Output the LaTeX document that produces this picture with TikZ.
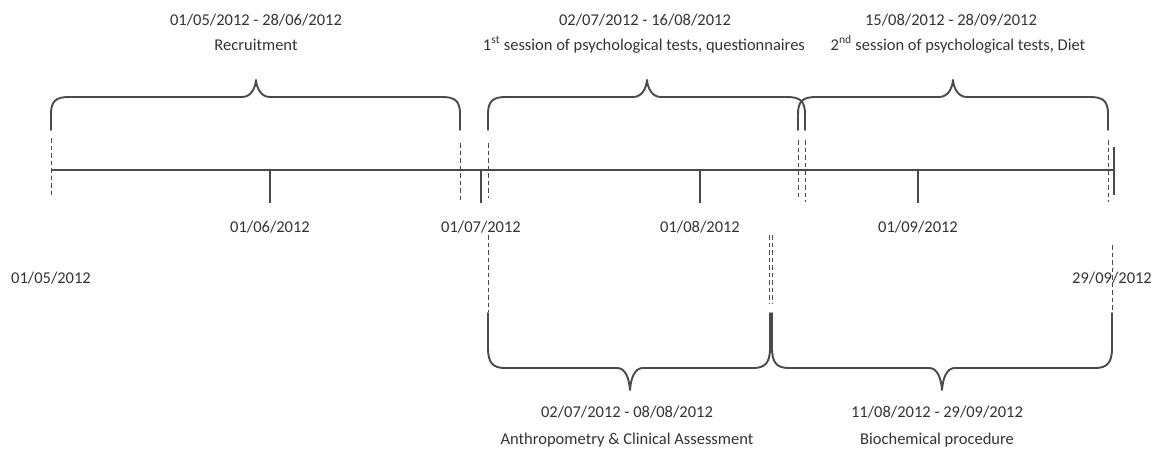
\documentclass[tikz,border=0pt]{standalone}
\usepackage{fontspec}
\setmainfont{Carlito}
\definecolor{ink}{HTML}{4A4A4A}
\definecolor{txt}{HTML}{333333}

% curly brace opening downwards: left x, tip x, right x
\newcommand{\bracetop}[3]{%
  \draw[bracket] (#1,130) -- (#1,114)
    .. controls (#1,101) and (#1+5,97) .. (#1+18,97) -- (#2-14,97)
    .. controls (#2-6,97) and (#2-1,90) .. (#2,80)
    .. controls (#2+1,90) and (#2+6,97) .. (#2+14,97) -- (#3-18,97)
    .. controls (#3-5,97) and (#3,101) .. (#3,114) -- (#3,130);}
% curly brace opening upwards: left x, tip x, right x
\newcommand{\bracebottom}[3]{%
  \draw[bracket] (#1,313) -- (#1,348)
    .. controls (#1,363) and (#1+5,368) .. (#1+17,368) -- (#2-13,368)
    .. controls (#2-5,368) and (#2-1,377) .. (#2,390)
    .. controls (#2+1,377) and (#2+5,368) .. (#2+13,368) -- (#3-17,368)
    .. controls (#3-5,368) and (#3,363) .. (#3,348) -- (#3,313);}

\begin{document}
\begin{tikzpicture}[x=1pt,y=-1pt,
  lbl/.style={font=\fontsize{16.5}{25}\selectfont, text=txt, inner sep=0pt, anchor=base},
  axisline/.style={draw=ink, line width=1.1pt},
  tickline/.style={draw=ink, line width=1.1pt},
  guide/.style={draw=ink, line width=1pt, dash pattern=on 4.5pt off 3pt},
  bracket/.style={draw=ink, line width=1.9pt, line join=round, line cap=round}]
\useasboundingbox (0,0) rectangle (1169,451);

% time axis
\coordinate (start) at (51,170);
\coordinate (stop) at (1114,170);
\draw[axisline] (start) -- (stop);
\draw[tickline] (1114,147) -- (1114,195);
\foreach \name/\x in {jun/270, jul/481, aug/700, sep/918}
  \draw[tickline] (\x,170) -- (\x,203) coordinate (tick-\name);

% month labels
\node[lbl] (l-jun) at (270,232) {01/06/2012};
\node[lbl] (l-jul) at (481,232) {01/07/2012};
\node[lbl] (l-aug) at (700,232) {01/08/2012};
\node[lbl] (l-sep) at (918,232) {01/09/2012};
\node[lbl] (l-may) at (51,283) {01/05/2012};
\node[lbl] (l-end) at (1112,283) {29/09/2012};

% dashed guides from the axis to the braces
\draw[guide] (51,138) -- (51,197);
\draw[guide] (460,143) -- (460,202);
\draw[guide] (488,143) -- (488,198);
\draw[guide] (798,140) -- (798,197);
\draw[guide] (805,140) -- (805,202);
\draw[guide] (1108,140) -- (1108,202);
\draw[guide] (488,235) -- (488,312);
\draw[guide] (769,235) -- (769,303);
\draw[guide] (772,235) -- (772,303);
\draw[guide] (1112,245) -- (1112,312);

% periods above the axis
\bracetop{51}{256}{460}
\bracetop{488}{647}{805}
\bracetop{798}{953}{1108}

% periods below the axis
\bracebottom{488}{630}{770}
\bracebottom{772}{942}{1112}

% period captions
\node[lbl] (rec-d) at (256,25) {01/05/2012 - 28/06/2012};
\node[lbl] (rec-t) at (256,50) {Recruitment};
\node[lbl] (s1-d) at (645,25) {02/07/2012 - 16/08/2012};
\node[lbl] (s1-t) at (644,50) {1\textsuperscript{st} session of psychological tests, questionnaires};
\node[lbl] (s2-d) at (951,25) {15/08/2012 - 28/09/2012};
\node[lbl] (s2-t) at (958,50) {2\textsuperscript{nd} session of psychological tests, Diet};
\node[lbl] (an-d) at (627,417) {02/07/2012 - 08/08/2012};
\node[lbl] (an-t) at (627,444) {Anthropometry \& Clinical Assessment};
\node[lbl] (bi-d) at (937,417) {11/08/2012 - 29/09/2012};
\node[lbl] (bi-t) at (937,444) {Biochemical procedure};
\end{tikzpicture}
\end{document}
